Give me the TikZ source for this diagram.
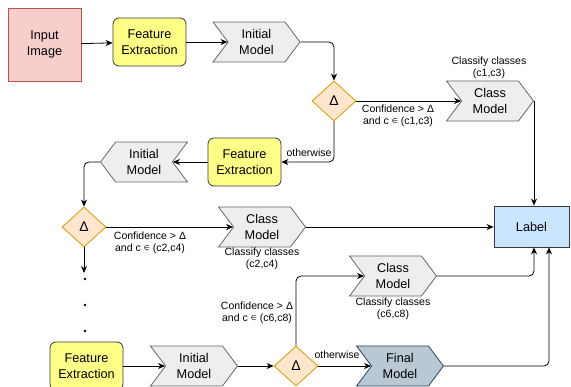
\documentclass[tikz,border=0pt]{standalone}
\usepackage{fontspec}
\setmainfont{Liberation Sans}
\newfontfamily\symfont{DejaVu Sans}
\usetikzlibrary{shapes.geometric,shapes.symbols,arrows.meta}
\definecolor{pinkfill}{HTML}{F8CECC}
\definecolor{pinkdraw}{HTML}{B85450}
\definecolor{yelfill}{HTML}{FFFF88}
\definecolor{darkdraw}{HTML}{36393D}
\definecolor{grayfill}{HTML}{EEEEEE}
\definecolor{graydraw}{HTML}{666666}
\definecolor{orfill}{HTML}{FFE6CC}
\definecolor{ordraw}{HTML}{D79B00}
\definecolor{bluefill}{HTML}{CCE5FF}
\definecolor{finfill}{HTML}{BAC8D3}
\definecolor{findraw}{HTML}{23445D}
\newcommand{\elem}{{\symfont\fontsize{7}{8}\selectfont\raisebox{0.3pt}{∈}}}
\tikzset{
  box/.style={draw, line width=0.8pt, align=center, inner sep=1pt,
    font=\fontsize{12.7}{15.5}\selectfont},
  inbox/.style={box, fill=pinkfill, draw=pinkdraw, minimum width=73pt, minimum height=73pt},
  febox/.style={box, fill=yelfill, draw=darkdraw, rounded corners=6pt, minimum width=73pt, minimum height=48pt},
  chev/.style={box, signal, signal pointer angle=106, minimum width=87pt, minimum height=40pt},
  chevr/.style={chev, signal to=east, signal from=west},
  chevl/.style={chev, signal to=west, signal from=east},
  graychev/.style={fill=grayfill, draw=graydraw},
  finchev/.style={fill=finfill, draw=findraw},
  dia/.style={box, diamond, aspect=1.1, fill=orfill, draw=ordraw, minimum width=44pt, minimum height=40pt, inner sep=0pt, font=\fontsize{14}{15}\selectfont},
  lblbox/.style={box, fill=bluefill, draw=darkdraw, minimum width=75pt, minimum height=41pt},
  lab/.style={align=center, inner sep=0pt, font=\fontsize{10.5}{11.8}\selectfont},
  conn/.style={draw, line width=0.8pt, -{Stealth[length=7pt,width=6pt,inset=2.2pt]}, rounded corners=5pt},
  dotn/.style={circle, fill=black, inner sep=0pt, minimum size=2.6pt}
}
\begin{document}
\begin{tikzpicture}[x=1pt,y=-1pt]
\clip (0,0) rectangle (571,387);
\useasboundingbox (0,0) rectangle (571,387);
% nodes
\node[inbox] (inp) at (44.5,44.5) {Input\\Image};
\node[febox] (fe1) at (149.5,42) {Feature\\Extraction};
\node[chevr,graychev] (im1) at (256.5,42) {Initial\\Model};
\node[dia] (d1) at (334,101) {Δ};
\node[chevr,graychev] (cm1) at (490,101) {Class\\Model};
\node[lblbox] (lbl) at (531.5,226.5) {Label};
\node[febox] (fe2) at (244.5,162) {Feature\\Extraction};
\node[chevl,graychev] (im2) at (144,162) {Initial\\Model};
\node[dia] (d2) at (84,227) {Δ};
\node[chevr,graychev] (cm2) at (262,227) {Class\\Model};
\node[febox] (fe3) at (86.5,366) {Feature\\Extraction};
\node[chevr,graychev] (im3) at (194,366) {Initial\\Model};
\node[dia] (d3) at (296,366) {Δ};
\node[chevr,graychev] (cm3) at (393,276) {Class\\Model};
\node[chevr,finchev] (fm) at (400,366) {Final\\Model};
\coordinate (d2end) at (84,273);
\node[dotn] (dot1) at (85,279) {};
\node[dotn] (dot2) at (85,305) {};
\node[dotn] (dot3) at (85,331) {};
% labels
\node[lab] (t1) at (489,68) {Classify classes\\(c1,c3)};
\node[lab] (t2) at (398,115.5) {Confidence > Δ\\and c \elem{} (c1,c3)};
\node[lab] (t3) at (309,153) {otherwise};
\node[lab] (t4) at (150,242.5) {Confidence > Δ\\and c \elem{} (c2,c4)};
\node[lab] (t5) at (262,259) {Classify classes\\(c2,c4)};
\node[lab] (t6) at (257,312.5) {Confidence > Δ\\and c \elem{} (c6,c8)};
\node[lab] (t7) at (393,308.5) {Classify classes\\(c6,c8)};
\node[lab] (t8) at (337,355) {otherwise};
% connectors
\draw[conn] (inp) -- (fe1);
\draw[conn] (fe1) -- (im1.west);
\draw[conn] (im1.east) -| (d1.north);
\draw[conn] (d1.east) -- (cm1.west);
\draw[conn] (cm1.east) -- (cm1.east |- lbl.north);
\draw[conn] (d1.south) |- (fe2.east);
\draw[conn] (fe2.west) -- (im2.east);
\draw[conn] (im2.west) -| (d2.north);
\draw[conn] (d2.east) -- (cm2.west);
\draw[conn] (cm2.east) -- (cm2.east -| lbl.west);
\draw[conn] (d2.south) -- (d2end);
\draw[conn] (fe3.east) -- (im3.west);
\draw[conn] (im3.east) -- (d3.west);
\draw[conn] (d3.north) |- (cm3.west);
\draw[conn] (d3.east) -- (fm.west);
\draw[conn] (cm3.east) -| ([xshift=2.5pt]lbl.south);
\draw[conn] (fm.east) -| ([xshift=17.5pt]lbl.south);
\end{tikzpicture}
\end{document}
